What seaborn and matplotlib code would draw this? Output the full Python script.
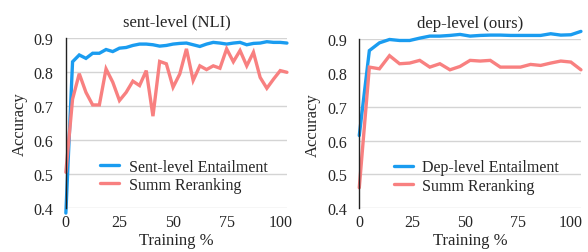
import numpy as np
import pandas as pd
import matplotlib
matplotlib.use("Agg")
import matplotlib.pyplot as plt
import seaborn as sns

# x positions (training %), left panel has 34 points, right has 23
x_sent = [0, 3.125, 6.25, 9.375, 12.5, 15.625, 18.75, 21.875, 25, 28.125, 31.25,
          34.375, 37.5, 40.625, 43.75, 46.875, 50, 53.125, 56.25, 59.375, 62.5,
          65.625, 68.75, 71.875, 75, 78.125, 81.25, 84.375, 87.5, 90.625, 93.75,
          96.875, 100, 103.125]
sent_entail = [0.385, 0.83, 0.85, 0.84, 0.855, 0.855, 0.866, 0.86, 0.87, 0.872, 0.878,
               0.882, 0.882, 0.88, 0.876, 0.878, 0.882, 0.884, 0.885, 0.88, 0.875,
               0.882, 0.887, 0.885, 0.882, 0.885, 0.887, 0.88, 0.884, 0.885, 0.889,
               0.887, 0.887, 0.885]
sent_rerank = [0.505, 0.72, 0.795, 0.74, 0.703, 0.703, 0.809, 0.77, 0.716, 0.74, 0.773,
               0.76, 0.804, 0.67, 0.831, 0.824, 0.755, 0.794, 0.868, 0.775, 0.818,
               0.807, 0.818, 0.811, 0.868, 0.83, 0.863, 0.818, 0.858, 0.784, 0.752,
               0.779, 0.804, 0.799]

x_dep = [0, 4.762, 9.524, 14.286, 19.048, 23.81, 28.571, 33.333, 38.095, 42.857,
         47.619, 52.381, 57.143, 61.905, 66.667, 71.429, 76.19, 80.952, 85.714,
         90.476, 95.238, 100, 104.762]
dep_entail = [0.615, 0.867, 0.89, 0.9, 0.897, 0.897, 0.904, 0.91, 0.91, 0.912, 0.915,
              0.91, 0.912, 0.913, 0.913, 0.912, 0.912, 0.912, 0.912, 0.917, 0.913,
              0.914, 0.924]
dep_rerank = [0.46, 0.818, 0.813, 0.852, 0.828, 0.83, 0.838, 0.818, 0.828, 0.81, 0.82,
              0.838, 0.836, 0.838, 0.818, 0.818, 0.818, 0.826, 0.823, 0.83, 0.836,
              0.833, 0.81]

blue = "#1a9cf0"
red = "#f88080"

sns.set_style("white")
plt.rcParams['font.family'] = ['Liberation Serif', 'DejaVu Serif']

fig = plt.figure(figsize=(5.88, 2.53), dpi=100)
ax1 = fig.add_axes([0.112, 0.174, 0.376, 0.672])
ax2 = fig.add_axes([0.611, 0.174, 0.377, 0.666])

panels = [
    (ax1, x_sent, sent_entail, sent_rerank, "Sent-level Entailment", "sent-level (NLI)", 103.125),
    (ax2, x_dep, dep_entail, dep_rerank, "Dep-level Entailment", "dep-level (ours)", 104.762),
]

for ax, xs, ent, rr, name, title, xmax in panels:
    df = pd.DataFrame({
        "Training %": xs + xs,
        "Accuracy": ent + rr,
        "series": [name] * len(xs) + ["Summ Reranking"] * len(xs),
    })
    sns.lineplot(data=df, x="Training %", y="Accuracy", hue="series",
                 palette=[blue, red], linewidth=2.4, ax=ax, legend=False)
    for ln in ax.lines:
        ln.set_clip_on(False)
        ln.set_solid_joinstyle("miter")
    ax.set_xlim(0, xmax)
    ax.set_ylim(0.4, 0.9)
    ax.set_yticks([0.4, 0.5, 0.6, 0.7, 0.8, 0.9])
    ax.set_yticklabels(["0.4", "0.5", "0.6", "0.7", "0.8", "0.9"])
    ax.set_xticks([0, 25, 50, 75, 100])
    ax.grid(axis="y", color="#d4d4d4", linewidth=1.0)
    ax.set_axisbelow(True)
    for s in ["top", "right", "bottom"]:
        ax.spines[s].set_visible(False)
    ax.spines["left"].set_color("#222222")
    ax.spines["left"].set_linewidth(1.0)
    ax.tick_params(axis="y", length=0, pad=9, labelsize=11.5)
    ax.tick_params(axis="x", length=0, pad=4, labelsize=11.5)
    ax.set_xlabel("Training %", fontsize=12, labelpad=2)
    ax.set_ylabel("Accuracy", fontsize=12, labelpad=4)
    ax.set_title(title, fontsize=12, pad=9)
    handles = [plt.Line2D([], [], color=blue, linewidth=2.4),
               plt.Line2D([], [], color=red, linewidth=2.4)]
    ax.legend(handles, [name, "Summ Reranking"], loc="upper left",
              bbox_to_anchor=(0.09, 0.375), frameon=False, fontsize=11.5,
              handlelength=1.2, handletextpad=0.6, labelspacing=0.15)

fig.savefig("out.png", dpi=100)
